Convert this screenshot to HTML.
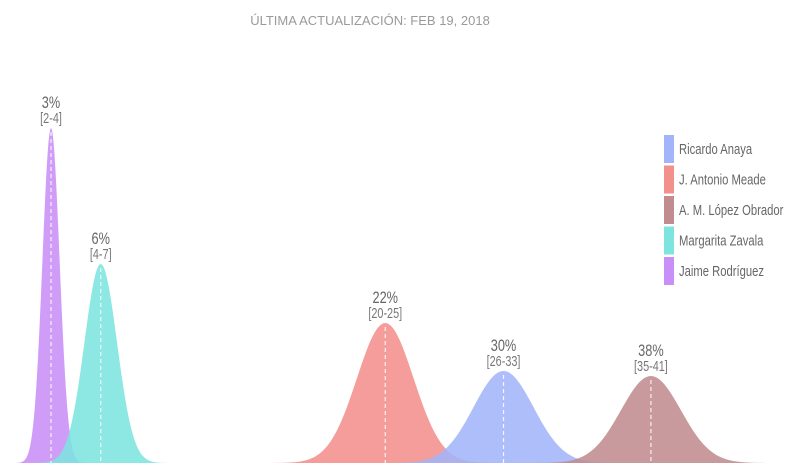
<!DOCTYPE html>
<html><head><meta charset="utf-8">
<style>
html,body{margin:0;padding:0;background:#fff;width:794px;height:472px;overflow:hidden}
svg text{font-family:"Liberation Sans",sans-serif;}
</style></head>
<body>
<svg id="chart" width="794" height="472" viewBox="0 0 794 472" xmlns="http://www.w3.org/2000/svg">
<text x="370" y="25" text-anchor="middle" font-size="13" fill="#9a9a9a">ÚLTIMA ACTUALIZACIÓN: FEB 19, 2018</text>
<g id="curves"></g>
<g id="legend"></g>
</svg>
<script>
const candidates = ["Ricardo Anaya","J. Antonio Meade","A. M. López Obrador","Margarita Zavala","Jaime Rodríguez"];
const means = [29.4, 22.5, 38.0, 5.9, 3.0];
const sds = [1.75, 1.65, 1.75, 0.95, 0.5];
const peaks = [0.092, 0.140, 0.087, 0.199, 0.335];
const pctLabels = ["30%","22%","38%","6%","3%"];
const rangeLabels = ["[26-33]","[20-25]","[35-41]","[4-7]","[2-4]"];
const colors = ["#a3b5fa","#f2908c","#c18c90","#7de4df","#c890f6"];
const drawOrder = [4,3,1,0,2];

const baseY = 463;
const xs = v => -0.4 + v * 17.14;
const ys = d => baseY - d * 1000;
const NS = "http://www.w3.org/2000/svg";
const g = document.getElementById("curves");

drawOrder.forEach(i => {
  const m = means[i], s = sds[i];
  let d = "M" + xs(m - 4.5*s) + "," + baseY;
  for (let k = 0; k <= 120; k++) {
    const v = m - 4.5*s + k * 9*s/120;
    const dens = peaks[i] * Math.exp(-0.5 * Math.pow((v - m)/s, 2));
    d += " L" + xs(v).toFixed(2) + "," + ys(dens).toFixed(2);
  }
  d += " Z";
  const p = document.createElementNS(NS, "path");
  p.setAttribute("d", d);
  p.setAttribute("fill", colors[i]);
  p.setAttribute("fill-opacity", "0.88");
  
  
  g.appendChild(p);
});
drawOrder.forEach(i => {
  const x = xs(means[i]), top = ys(peaks[i]);
  const l = document.createElementNS(NS, "line");
  l.setAttribute("x1", x); l.setAttribute("x2", x);
  l.setAttribute("y1", top + 4); l.setAttribute("y2", baseY);
  l.setAttribute("stroke", "#ffffff"); l.setAttribute("stroke-width", "1.2");
  l.setAttribute("stroke-dasharray", "4,3"); l.setAttribute("stroke-opacity", "0.85");
  
  
  g.appendChild(l);
  const t1 = document.createElementNS(NS, "text");
  t1.setAttribute("x", x); t1.setAttribute("y", top - 20);
  t1.setAttribute("text-anchor", "middle"); t1.setAttribute("font-size", "17");
  t1.setAttribute("fill", "#666"); t1.setAttribute("transform", `translate(${x},0) scale(0.75,1) translate(${-x},0)`);
  t1.textContent = pctLabels[i];
  
  
  g.appendChild(t1);
  const t2 = document.createElementNS(NS, "text");
  t2.setAttribute("x", x); t2.setAttribute("y", top - 5);
  t2.setAttribute("text-anchor", "middle"); t2.setAttribute("font-size", "14.5");
  t2.setAttribute("fill", "#777"); t2.setAttribute("transform", `translate(${x},0) scale(0.75,1) translate(${-x},0)`);
  t2.textContent = rangeLabels[i];
  
  
  g.appendChild(t2);
});

const lg = document.getElementById("legend");
candidates.forEach((name, i) => {
  const y = 135 + i * 30.5;
  const r = document.createElementNS(NS, "rect");
  r.setAttribute("x", 664); r.setAttribute("y", y);
  r.setAttribute("width", 10); r.setAttribute("height", 28);
  r.setAttribute("fill", colors[i]);
  
  
  lg.appendChild(r);
  const t = document.createElementNS(NS, "text");
  t.setAttribute("x", 679); t.setAttribute("y", y + 19);
  t.setAttribute("font-size", "15"); t.setAttribute("fill", "#666");
  t.setAttribute("transform", "translate(679,0) scale(0.75,1) translate(-679,0)");
  t.textContent = name;
  
  
  lg.appendChild(t);
});
</script>
</body></html>
